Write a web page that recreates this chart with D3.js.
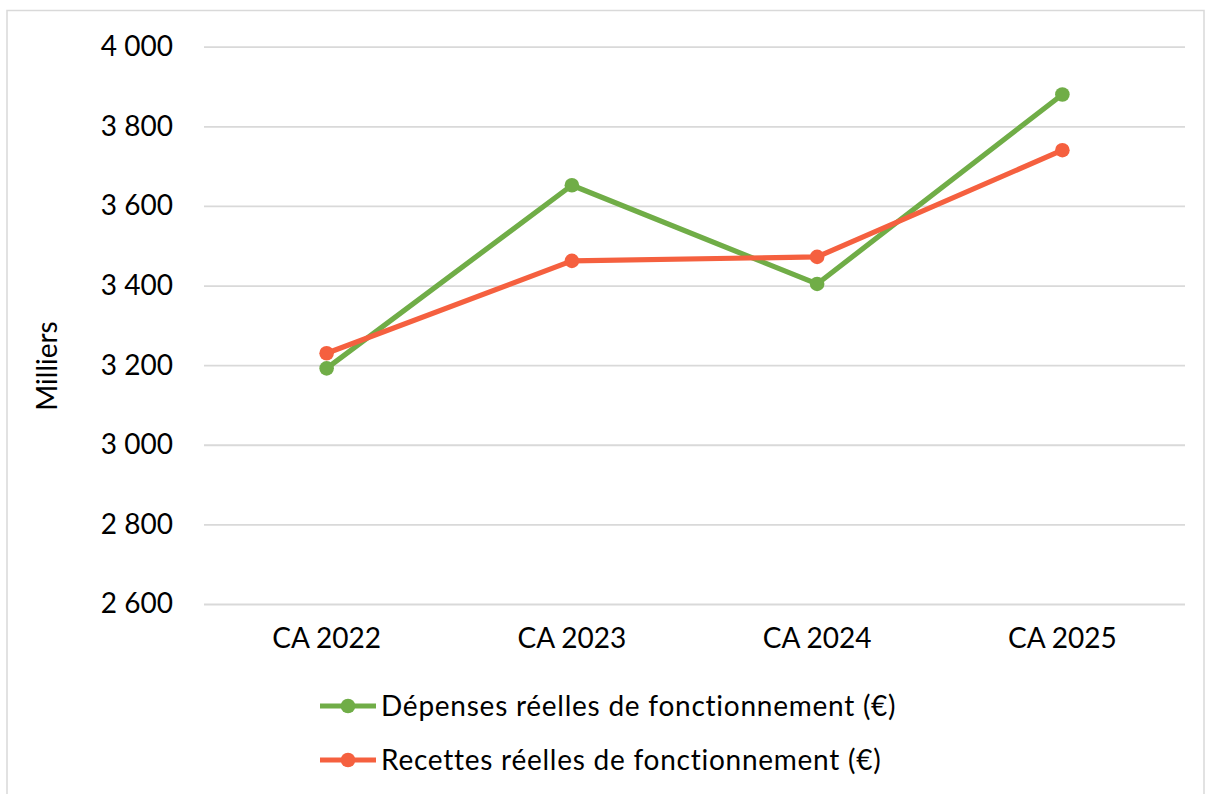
<!DOCTYPE html>
<html lang="fr">
<head>
<meta charset="utf-8">
<script src="https://cdn.jsdelivr.net/npm/d3@7"></script>
<style>
  html, body { margin: 0; padding: 0; background: #ffffff; }
  svg { display: block; }
  text { font-family: Lato, "Open Sans", sans-serif; fill: #000000; }
</style>
</head>
<body>
<svg id="chart" width="1206" height="794"></svg>
<script>
// Budget de fonctionnement (en milliers d'euros)
const categories = ["CA 2022", "CA 2023", "CA 2024", "CA 2025"];
const depenses = [3192, 3652, 3404, 3880];
const recettes = [3230, 3462, 3472, 3740];
const yTicks = [2600, 2800, 3000, 3200, 3400, 3600, 3800, 4000];
const seriesNames = [
  "Dépenses réelles de fonctionnement (€)",
  "Recettes réelles de fonctionnement (€)"
];
const seriesColors = ["#70AD47", "#F5603F"];

const svg = d3.select("#chart");
const plot = { left: 204, right: 1185, top: 46.7, bottom: 604 };

// outer frame
svg.append("rect")
  .attr("x", 7).attr("y", 10.5)
  .attr("width", 1197).attr("height", 800)
  .attr("fill", "#ffffff")
  .attr("stroke", "#d9d9d9").attr("stroke-width", 1.5);

const x = d3.scaleBand()
  .domain(categories)
  .range([plot.left, plot.right])
  .padding(0);

const y = d3.scaleLinear()
  .domain([2600, 4000])
  .range([plot.bottom, plot.top]);

const fmt = v => d3.format(",")(v).replace(/,/g, " ");

// horizontal gridlines + y tick labels
const yAxis = d3.axisLeft(y)
  .tickValues(yTicks)
  .tickSize(-(plot.right - plot.left))
  .tickPadding(31)
  .tickFormat(fmt);

const gy = svg.append("g")
  .attr("transform", `translate(${plot.left},0)`)
  .call(yAxis);
gy.select(".domain").remove();
gy.selectAll(".tick line")
  .attr("stroke", "#d9d9d9").attr("stroke-width", 1.8);
gy.selectAll(".tick text")
  .attr("font-size", 28)
  .attr("fill", "#000")
  .style("font-family", "Lato, 'Open Sans', sans-serif");

// category labels
const xAxis = d3.axisBottom(x).tickSize(0).tickPadding(24);
const gx = svg.append("g")
  .attr("transform", `translate(0,${plot.bottom})`)
  .call(xAxis);
gx.select(".domain").remove();
gx.selectAll(".tick text")
  .attr("font-size", 28)
  .attr("fill", "#000")
  .style("font-family", "Lato, 'Open Sans', sans-serif");

// y axis title
svg.append("text")
  .attr("transform", `translate(57,366) rotate(-90)`)
  .attr("text-anchor", "middle")
  .attr("font-size", 28)
  .text("Milliers");

// series
const series = [depenses, recettes];
const cx = c => x(c) + x.bandwidth() / 2;
const line = d3.line()
  .x((d, i) => cx(categories[i]))
  .y(d => y(d));

series.forEach((vals, s) => {
  const g = svg.append("g");
  g.append("path")
    .datum(vals)
    .attr("d", line)
    .attr("fill", "none")
    .attr("stroke", seriesColors[s])
    .attr("stroke-width", 5.2)
    .attr("stroke-linejoin", "round");
  g.selectAll("circle")
    .data(vals)
    .join("circle")
    .attr("cx", (d, i) => cx(categories[i]))
    .attr("cy", d => y(d))
    .attr("r", 7.3)
    .attr("fill", seriesColors[s]);
});

// legend
const legendY = [706, 760];
seriesNames.forEach((name, s) => {
  const g = svg.append("g").attr("transform", `translate(0,${legendY[s]})`);
  g.append("line")
    .attr("x1", 320).attr("x2", 376)
    .attr("y1", 0).attr("y2", 0)
    .attr("stroke", seriesColors[s]).attr("stroke-width", 5.2);
  g.append("circle")
    .attr("cx", 348).attr("cy", 0).attr("r", 7.3)
    .attr("fill", seriesColors[s]);
  g.append("text")
    .attr("x", 381).attr("y", 0)
    .attr("dy", "0.35em")
    .attr("font-size", 28)
    .attr("letter-spacing", 0.75)
    .text(name);
});
</script>
</body>
</html>
